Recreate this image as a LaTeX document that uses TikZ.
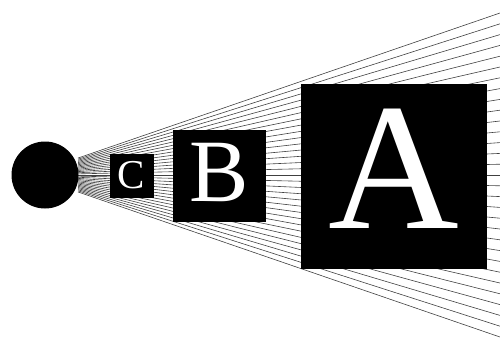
\documentclass[tikz,border=0pt]{standalone}
\usepackage{fontspec}
\setmainfont{Liberation Serif}
\begin{document}
\begin{tikzpicture}[x=1pt,y=-1pt,
    ray/.style={color=black!75,line width=0.6pt},
    panel/.style={fill=black,text=white,inner sep=0pt,minimum size=#1}]
    \useasboundingbox (0,0) rectangle (500,338);
    % rays fanning out from the dot
    \foreach \k in {-15,...,15} {
      \draw[ray] (78,175+1.13*\k) -- (500,175+10.8*\k);
    }
    \node[circle,fill=black,inner sep=0pt,minimum size=67pt] (dot) at (45,175) {};
    \node[panel=44pt,font=\fontsize{41}{41}\selectfont] (boxC) at (131.5,175.5) {C};
    \node[panel=92.5pt,font=\fontsize{89}{89}\selectfont,text depth=7pt] (boxB) at (219.5,176) {B};
    \node[panel=185.5pt,font=\fontsize{181}{181}\selectfont,text depth=16pt] (boxA) at (394,176.5) {A};
  \end{tikzpicture}
\end{document}
